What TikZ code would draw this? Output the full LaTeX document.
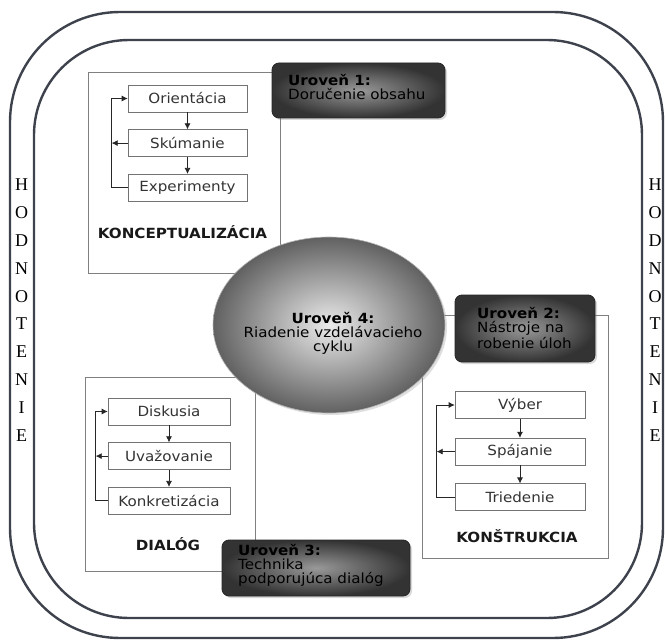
\documentclass[tikz,border=0pt]{standalone}
\usepackage{fontspec}
\setmainfont[FakeStretch=1.08]{DejaVu Sans}
\newfontfamily\hodfont{Liberation Serif}
\usepackage{tikz}
\usetikzlibrary{positioning}
\usetikzlibrary{shapes.geometric}
\usetikzlibrary{shadows}
\usetikzlibrary{arrows.meta}

\definecolor{framegray}{RGB}{62,66,76}

\tikzset{
    framering/.style={draw=framegray, line width=2.4pt},
    hodletter/.style={inner sep=0pt, font=\hodfont\fontsize{18}{18}\selectfont},
    groupbox/.style={rectangle, draw=black!50, line width=0.7pt},
    stepbox/.style={rectangle, draw=black!55, line width=0.6pt, minimum height=27pt, text=black!80, font=\fontsize{14}{14}\selectfont},
    flow/.style={-{Latex[length=6pt,width=6pt]}, line width=0.7pt, draw=black!85},
    grouplabel/.style={anchor=base, text=black!90, font=\bfseries\fontsize{14}{14}\selectfont},
    levelbox/.style={rectangle, rounded corners=7pt, draw=black!85, line width=0.8pt, inner color=black!40, outer color=black!80, drop shadow={shadow xshift=2pt, shadow yshift=-2pt, opacity=0.3}},
    leveltext/.style={anchor=north west, align=left, inner sep=0pt, font=\fontsize{14}{14}\selectfont}
}

\begin{document}
\begin{tikzpicture}[x=1pt,y=-1pt]
    \useasboundingbox (0,0) rectangle (665,642);
    \draw [framering, rounded corners=110pt] (10,12) rectangle (663,638);
    \draw [framering, rounded corners=95pt] (34,40) rectangle (642,618);

    \foreach \ch [count=\i from 0] in {H,O,D,N,O,T,E,N,I,E}{
        \node (hodl\i) [hodletter] at (21.5,{185+27.8*\i}) {\ch};
        \node (hodr\i) [hodletter] at (655,{185+27.8*\i}) {\ch};
    }

    \node (konc box) [groupbox, minimum width=192pt, minimum height=201pt] at (184,172.5) {};
    \node (dial box) [groupbox, minimum width=170pt, minimum height=194pt] at (170,474) {};
    \node (kons box) [groupbox, minimum width=186pt, minimum height=243pt] at (515,436.5) {};

    \node (orient) [stepbox, minimum width=119pt] at (187.5,98.5) {Orientácia};
    \node (skum) [stepbox, minimum width=119pt, below=17pt of orient] {Skúmanie};
    \node (exper) [stepbox, minimum width=119pt, below=17pt of skum] {Experimenty};
    \coordinate (konc loop) at ([xshift=-16pt]exper.west);
    \draw [flow] (orient) -- (skum);
    \draw [flow] (skum) -- (exper);
    \draw [flow] (exper.west) -- (konc loop) |- (orient.west);
    \draw [flow] (skum.west) -- (skum.west -| konc loop);
    \node (konc name) [grouplabel] at (182.5,238) {KONCEPTUALIZÁCIA};

    \node (disk) [stepbox, minimum width=122pt] at (169,411.5) {Diskusia};
    \node (uvaz) [stepbox, minimum width=122pt, below=17pt of disk] {Uvažovanie};
    \node (konk) [stepbox, minimum width=122pt, below=17pt of uvaz] {Konkretizácia};
    \coordinate (dial loop) at ([xshift=-12pt]konk.west);
    \draw [flow] (disk) -- (uvaz);
    \draw [flow] (uvaz) -- (konk);
    \draw [flow] (konk.west) -- (dial loop) |- (disk.west);
    \draw [flow] (uvaz.west) -- (uvaz.west -| dial loop);
    \node (dial name) [grouplabel] at (168,550) {DIALÓG};

    \node (vyber) [stepbox, minimum width=130pt] at (520,405) {Výber};
    \node (spaj) [stepbox, minimum width=130pt, below=19pt of vyber] {Spájanie};
    \node (tried) [stepbox, minimum width=130pt, below=18pt of spaj] {Triedenie};
    \coordinate (kons loop) at ([xshift=-18pt]tried.west);
    \draw [flow] (vyber) -- (spaj);
    \draw [flow] (spaj) -- (tried);
    \draw [flow] (tried.west) -- (kons loop) |- (vyber.west);
    \draw [flow] (spaj.west) -- (spaj.west -| kons loop);
    \node (kons name) [grouplabel] at (517,542) {KONŠTRUKCIA};

    \node (core) [ellipse, minimum width=232pt, minimum height=176pt, draw=black!30, line width=0.6pt, inner color=black!8, outer color=black!62, drop shadow={shadow xshift=2pt, shadow yshift=-2pt, opacity=0.25}] at (329,325) {};
    \node (core text) [align=center, font=\fontsize{14}{14}\selectfont] at (333,333) {\textbf{Uroveň 4:}\\Riadenie vzdelávacieho\\cyklu};

    \node (lvl1) [levelbox, minimum width=173pt, minimum height=55pt] at (358.5,90.5) {};
    \node (lvl1 text) [leveltext] at (288,74.5) {\textbf{Uroveň 1:}\\Doručenie obsahu};
    \node (lvl2) [levelbox, minimum width=140pt, minimum height=67pt] at (525,328.5) {};
    \node (lvl2 text) [leveltext] at (477,307.5) {\textbf{Uroveň 2:}\\Nástroje na\\robenie úloh};
    \node (lvl3) [levelbox, minimum width=188pt, minimum height=56pt] at (316,568) {};
    \node (lvl3 text) [leveltext] at (238,544.5) {\textbf{Uroveň 3:}\\Technika\\podporujúca dialóg};
\end{tikzpicture}
\end{document}
